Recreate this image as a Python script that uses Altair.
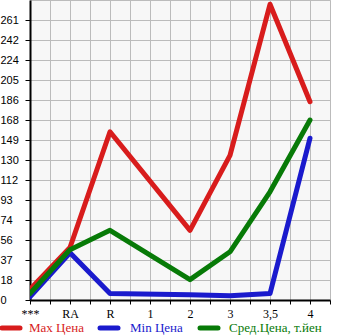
import altair as alt
import pandas as pd

categories = ["***", "RA", "R", "1", "2", "3", "3,5", "4"]
max_price = [10, 49, 157, None, 65, 135, 276, 185]
min_price = [3, 44, 6, None, 5, 4, 6, 151]
avg_price = [6, 47, 65, None, 19, 45, 101, 168]
series_names = ["Max Цена", "Min Цена", "Сред.Цена, т.йен"]
series_colors = ["#d81c1c", "#1a1acd", "#077a07"]
y_ticks = [i * 280 / 15 for i in range(15)]

rows = []
for name, vals in zip(series_names, [max_price, min_price, avg_price]):
    for i, v in enumerate(vals):
        if v is not None:
            rows.append({"idx": i, "cat": categories[i], "value": v, "series": name})
df = pd.DataFrame(rows)

cat_expr = "[" + ",".join("'" + c + "'" for c in categories) + "]"

x = alt.X(
    "idx:Q",
    scale=alt.Scale(domain=[0, 7.5], nice=False, zero=False),
    axis=alt.Axis(
        values=[i * 0.5 for i in range(16)],
        labelExpr=f"datum.value % 1 == 0 ? {cat_expr}[datum.value] : ''",
        title=None,
        domainColor="#000000",
        domainWidth=2,
        tickColor="#000000",
        tickSize=4,
        labelFont="Liberation Serif",
        labelFontSize=12,
        labelColor="#000000",
        labelPadding=4,
        gridColor="#bbbbbb",
        gridWidth=1,
        labelFlush=False,
    ),
)
y = alt.Y(
    "value:Q",
    scale=alt.Scale(domain=[0, 280], nice=False),
    axis=alt.Axis(
        values=y_ticks,
        labelExpr="floor(datum.value)",
        title=None,
        domainColor="#000000",
        domainWidth=2,
        tickColor="#000000",
        tickSize=5,
        labelAlign="left",
        labelBaseline="middle",
        labelPadding=25,
        labelFont="Liberation Sans",
        labelFontSize=11,
        labelColor="#000000",
        gridColor="#bbbbbb",
        gridWidth=1,
    ),
)

lines = alt.Chart(df).mark_line(strokeWidth=5, strokeCap="round", strokeJoin="round", clip=True).encode(
    x=x,
    y=y,
    color=alt.Color("series:N", scale=alt.Scale(domain=series_names, range=series_colors), legend=None),
    order=alt.Order("idx:Q"),
)

layers = [lines]
sw_x = [0, 98, 198]
tx_x = [29, 130, 229]
for name, col, sx, tx in zip(series_names, series_colors, sw_x, tx_x):
    layers.append(
        alt.Chart(pd.DataFrame({"a": [0]})).mark_rule(strokeWidth=5, color=col, strokeCap="round").encode(
            x=alt.value(sx - 30 + 2), x2=alt.value(sx - 30 + 20), y=alt.value(328)
        )
    )
    layers.append(
        alt.Chart(pd.DataFrame({"a": [0]})).mark_text(
            text=name, color=col, font="Liberation Serif", fontSize=13, align="left", baseline="middle"
        ).encode(x=alt.value(tx - 30), y=alt.value(328))
    )

chart = alt.layer(*layers).properties(
    width=300,
    height=300,
    autosize=alt.AutoSizeParams(type="none"),
    padding={"left": 30, "top": 0, "right": 15, "bottom": 35},
    background="#ffffff",
).configure_view(stroke="#bbbbbb", fill="#f7f7f7")

chart.save("out.html", embed_options={"renderer": "svg", "actions": False})
